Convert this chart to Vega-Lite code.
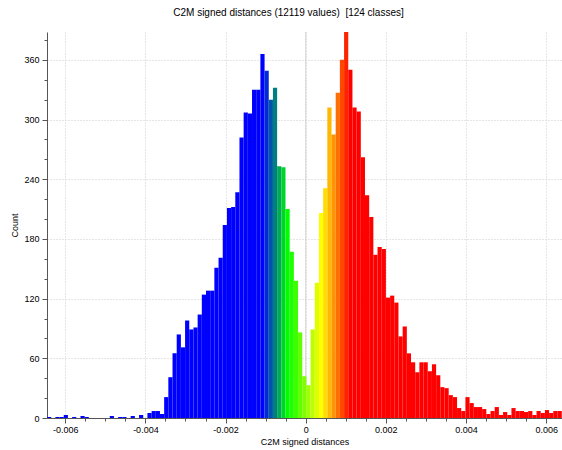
{
  "$schema": "https://vega.github.io/schema/vega-lite/v6.json",
  "width": 515,
  "height": 386,
  "autosize": {"type": "none"},
  "padding": {"left": 47, "top": 32, "right": 0, "bottom": 32},
  "background": "white",
  "config": {"view": {"stroke": null}, "font": "Liberation Sans"},
  "title": {"text": "C2M signed distances (12119 values) \u00a0[124 classes]", "fontSize": 10, "fontWeight": "normal", "font": "Liberation Sans", "color": "#000000", "anchor": "middle", "frame": "group", "dx": -16, "offset": 14},
  "data": {"values": [
    {"lo": -0.006455, "hi": -0.0063506, "count": 1},
    {"lo": -0.0063506, "hi": -0.0062462, "count": 0},
    {"lo": -0.0062462, "hi": -0.0061418, "count": 1},
    {"lo": -0.0061418, "hi": -0.0060374, "count": 1},
    {"lo": -0.0060374, "hi": -0.005933, "count": 3},
    {"lo": -0.005933, "hi": -0.0058286, "count": 0},
    {"lo": -0.0058286, "hi": -0.0057242, "count": 1},
    {"lo": -0.0057242, "hi": -0.0056198, "count": 0},
    {"lo": -0.0056198, "hi": -0.0055154, "count": 2},
    {"lo": -0.0055154, "hi": -0.005411, "count": 1},
    {"lo": -0.005411, "hi": -0.0053066, "count": 0},
    {"lo": -0.0053066, "hi": -0.0052022, "count": 0},
    {"lo": -0.0052022, "hi": -0.0050978, "count": 0},
    {"lo": -0.0050978, "hi": -0.0049934, "count": 0},
    {"lo": -0.0049934, "hi": -0.004889, "count": 0},
    {"lo": -0.004889, "hi": -0.0047846, "count": 2},
    {"lo": -0.0047846, "hi": -0.0046802, "count": 0},
    {"lo": -0.0046802, "hi": -0.0045758, "count": 1},
    {"lo": -0.0045758, "hi": -0.0044714, "count": 1},
    {"lo": -0.0044714, "hi": -0.004367, "count": 0},
    {"lo": -0.004367, "hi": -0.0042626, "count": 2},
    {"lo": -0.0042626, "hi": -0.0041582, "count": 0},
    {"lo": -0.0041582, "hi": -0.0040538, "count": 3},
    {"lo": -0.0040538, "hi": -0.0039494, "count": 0},
    {"lo": -0.0039494, "hi": -0.003845, "count": 5},
    {"lo": -0.003845, "hi": -0.0037406, "count": 7},
    {"lo": -0.0037406, "hi": -0.0036362, "count": 7},
    {"lo": -0.0036362, "hi": -0.0035318, "count": 4},
    {"lo": -0.0035318, "hi": -0.0034274, "count": 21},
    {"lo": -0.0034274, "hi": -0.003323, "count": 41},
    {"lo": -0.003323, "hi": -0.0032186, "count": 65},
    {"lo": -0.0032186, "hi": -0.0031142, "count": 84},
    {"lo": -0.0031142, "hi": -0.0030098, "count": 71},
    {"lo": -0.0030098, "hi": -0.0029054, "count": 98},
    {"lo": -0.0029054, "hi": -0.002801, "count": 89},
    {"lo": -0.002801, "hi": -0.0026966, "count": 91},
    {"lo": -0.0026966, "hi": -0.0025922, "count": 104},
    {"lo": -0.0025922, "hi": -0.0024878, "count": 124},
    {"lo": -0.0024878, "hi": -0.0023834, "count": 128},
    {"lo": -0.0023834, "hi": -0.002279, "count": 128},
    {"lo": -0.002279, "hi": -0.0021746, "count": 151},
    {"lo": -0.0021746, "hi": -0.0020702, "count": 161},
    {"lo": -0.0020702, "hi": -0.0019658, "count": 194},
    {"lo": -0.0019658, "hi": -0.0018614, "count": 211},
    {"lo": -0.0018614, "hi": -0.001757, "count": 212},
    {"lo": -0.001757, "hi": -0.0016526, "count": 227},
    {"lo": -0.0016526, "hi": -0.0015482, "count": 282},
    {"lo": -0.0015482, "hi": -0.0014438, "count": 307},
    {"lo": -0.0014438, "hi": -0.0013394, "count": 306},
    {"lo": -0.0013394, "hi": -0.001235, "count": 330},
    {"lo": -0.001235, "hi": -0.0011306, "count": 330},
    {"lo": -0.0011306, "hi": -0.0010262, "count": 366},
    {"lo": -0.0010262, "hi": -0.0009218, "count": 349},
    {"lo": -0.0009218, "hi": -0.0008174, "count": 320},
    {"lo": -0.0008174, "hi": -0.000713, "count": 332},
    {"lo": -0.000713, "hi": -0.0006086, "count": 253},
    {"lo": -0.0006086, "hi": -0.0005042, "count": 252},
    {"lo": -0.0005042, "hi": -0.0003998, "count": 210},
    {"lo": -0.0003998, "hi": -0.0002954, "count": 167},
    {"lo": -0.0002954, "hi": -0.000191, "count": 138},
    {"lo": -0.000191, "hi": -0.0000866, "count": 86},
    {"lo": -0.0000866, "hi": 0.0000178, "count": 42},
    {"lo": 0.0000178, "hi": 0.0001222, "count": 33},
    {"lo": 0.0001222, "hi": 0.0002266, "count": 89},
    {"lo": 0.0002266, "hi": 0.000331, "count": 136},
    {"lo": 0.000331, "hi": 0.0004354, "count": 206},
    {"lo": 0.0004354, "hi": 0.0005398, "count": 231},
    {"lo": 0.0005398, "hi": 0.0006442, "count": 312},
    {"lo": 0.0006442, "hi": 0.0007486, "count": 285},
    {"lo": 0.0007486, "hi": 0.000853, "count": 327},
    {"lo": 0.000853, "hi": 0.0009574, "count": 360},
    {"lo": 0.0009574, "hi": 0.0010618, "count": 388},
    {"lo": 0.0010618, "hi": 0.0011662, "count": 350},
    {"lo": 0.0011662, "hi": 0.0012706, "count": 312},
    {"lo": 0.0012706, "hi": 0.001375, "count": 308},
    {"lo": 0.001375, "hi": 0.0014794, "count": 262},
    {"lo": 0.0014794, "hi": 0.0015838, "count": 224},
    {"lo": 0.0015838, "hi": 0.0016882, "count": 202},
    {"lo": 0.0016882, "hi": 0.0017926, "count": 164},
    {"lo": 0.0017926, "hi": 0.001897, "count": 172},
    {"lo": 0.001897, "hi": 0.0020014, "count": 170},
    {"lo": 0.0020014, "hi": 0.0021058, "count": 121},
    {"lo": 0.0021058, "hi": 0.0022102, "count": 123},
    {"lo": 0.0022102, "hi": 0.0023146, "count": 116},
    {"lo": 0.0023146, "hi": 0.002419, "count": 82},
    {"lo": 0.002419, "hi": 0.0025234, "count": 92},
    {"lo": 0.0025234, "hi": 0.0026278, "count": 65},
    {"lo": 0.0026278, "hi": 0.0027322, "count": 56},
    {"lo": 0.0027322, "hi": 0.0028366, "count": 46},
    {"lo": 0.0028366, "hi": 0.002941, "count": 56},
    {"lo": 0.002941, "hi": 0.0030454, "count": 56},
    {"lo": 0.0030454, "hi": 0.0031498, "count": 47},
    {"lo": 0.0031498, "hi": 0.0032542, "count": 54},
    {"lo": 0.0032542, "hi": 0.0033586, "count": 43},
    {"lo": 0.0033586, "hi": 0.003463, "count": 31},
    {"lo": 0.003463, "hi": 0.0035674, "count": 30},
    {"lo": 0.0035674, "hi": 0.0036718, "count": 23},
    {"lo": 0.0036718, "hi": 0.0037762, "count": 21},
    {"lo": 0.0037762, "hi": 0.0038806, "count": 10},
    {"lo": 0.0038806, "hi": 0.003985, "count": 7},
    {"lo": 0.003985, "hi": 0.0040894, "count": 21},
    {"lo": 0.0040894, "hi": 0.0041938, "count": 15},
    {"lo": 0.0041938, "hi": 0.0042982, "count": 11},
    {"lo": 0.0042982, "hi": 0.0044026, "count": 11},
    {"lo": 0.0044026, "hi": 0.004507, "count": 9},
    {"lo": 0.004507, "hi": 0.0046114, "count": 4},
    {"lo": 0.0046114, "hi": 0.0047158, "count": 7},
    {"lo": 0.0047158, "hi": 0.0048202, "count": 11},
    {"lo": 0.0048202, "hi": 0.0049246, "count": 3},
    {"lo": 0.0049246, "hi": 0.005029, "count": 6},
    {"lo": 0.005029, "hi": 0.0051334, "count": 3},
    {"lo": 0.0051334, "hi": 0.0052378, "count": 10},
    {"lo": 0.0052378, "hi": 0.0053422, "count": 7},
    {"lo": 0.0053422, "hi": 0.0054466, "count": 7},
    {"lo": 0.0054466, "hi": 0.005551, "count": 6},
    {"lo": 0.005551, "hi": 0.0056554, "count": 7},
    {"lo": 0.0056554, "hi": 0.0057598, "count": 3},
    {"lo": 0.0057598, "hi": 0.0058642, "count": 7},
    {"lo": 0.0058642, "hi": 0.0059686, "count": 5},
    {"lo": 0.0059686, "hi": 0.006073, "count": 8},
    {"lo": 0.006073, "hi": 0.0061774, "count": 5},
    {"lo": 0.0061774, "hi": 0.0062818, "count": 7},
    {"lo": 0.0062818, "hi": 0.0063862, "count": 7},
    {"lo": 0.0063862, "hi": 0.0064906, "count": 7}
  ]},
  "encoding": {
    "x": {
      "field": "lo",
      "type": "quantitative",
      "scale": {"domain": [-0.006455, 0.006395], "nice": false, "zero": false},
      "axis": {
        "title": "C2M signed distances",
        "titleFontSize": 9,
        "titleFontWeight": "normal",
        "titleFont": "Liberation Sans",
        "titleColor": "#000000",
        "titlePadding": 3,
        "values": [-0.006, -0.0055, -0.005, -0.0045, -0.004, -0.0035, -0.003, -0.0025, -0.002, -0.0015, -0.001, -0.0005, 0, 0.0005, 0.001, 0.0015, 0.002, 0.0025, 0.003, 0.0035, 0.004, 0.0045, 0.005, 0.0055, 0.006],
        "labelExpr": "abs(round(datum.value*500)-datum.value*500)<0.001 ? (datum.value==0 ? '0' : (datum.value<0 ? '-' : '') + format(abs(datum.value), '.3f')) : ''",
        "labelFontSize": 9,
        "labelFont": "Liberation Sans",
        "labelColor": "#000000",
        "labelPadding": 2,
        "labelFlush": false,
        "labelOverlap": false,
        "tickSize": {"condition": {"test": "abs(round(datum.value*500)-datum.value*500)<0.001", "value": 5}, "value": 3},
        "tickColor": "#555555",
        "domainColor": "#555555",
        "grid": true,
        "gridColor": "#cccccc",
        "gridDash": [1, 2],
        "gridOpacity": {"condition": {"test": "abs(round(datum.value*500)-datum.value*500)<0.001", "value": 1}, "value": 0}
      }
    }
  },
  "layer": [
    {
      "data": {"values": [{"lo": 0}]},
      "mark": {"type": "rule", "color": "#d4d4d4", "strokeWidth": 1}
    },
    {
      "mark": {"type": "rect", "clip": true},
      "encoding": {
        "x2": {"field": "hi"},
        "y": {
          "field": "count",
          "type": "quantitative",
          "scale": {"domain": [0, 388], "nice": false},
          "axis": {
            "title": "Count",
            "titleFontSize": 9,
            "titleFontWeight": "normal",
            "titleFont": "Liberation Sans",
            "titleColor": "#000000",
            "titlePadding": 4,
            "values": [0, 20, 40, 60, 80, 100, 120, 140, 160, 180, 200, 220, 240, 260, 280, 300, 320, 340, 360, 380],
            "labelExpr": "datum.value % 60 == 0 ? '' + datum.value : ''",
            "labelFontSize": 9,
            "labelFont": "Liberation Sans",
            "labelColor": "#000000",
            "labelPadding": 3,
            "labelFlush": false,
            "labelOverlap": false,
            "tickSize": {"condition": {"test": "datum.value % 60 == 0", "value": 5}, "value": 3},
            "tickColor": "#555555",
            "domainColor": "#555555",
            "grid": true,
            "gridColor": "#cccccc",
            "gridDash": [1, 2],
            "gridOpacity": {"condition": {"test": "datum.value % 60 == 0 && datum.value > 0", "value": 1}, "value": 0}
          }
        },
        "y2": {"datum": 0},
        "color": {
          "field": "lo",
          "type": "quantitative",
          "scale": {"domain": [-0.00113, -0.0005, 0.00034, 0.00106], "range": ["#0000ff", "#00ff00", "#ffff00", "#ff0000"], "interpolate": "rgb", "clamp": true},
          "legend": null
        }
      }
    }
  ]
}
